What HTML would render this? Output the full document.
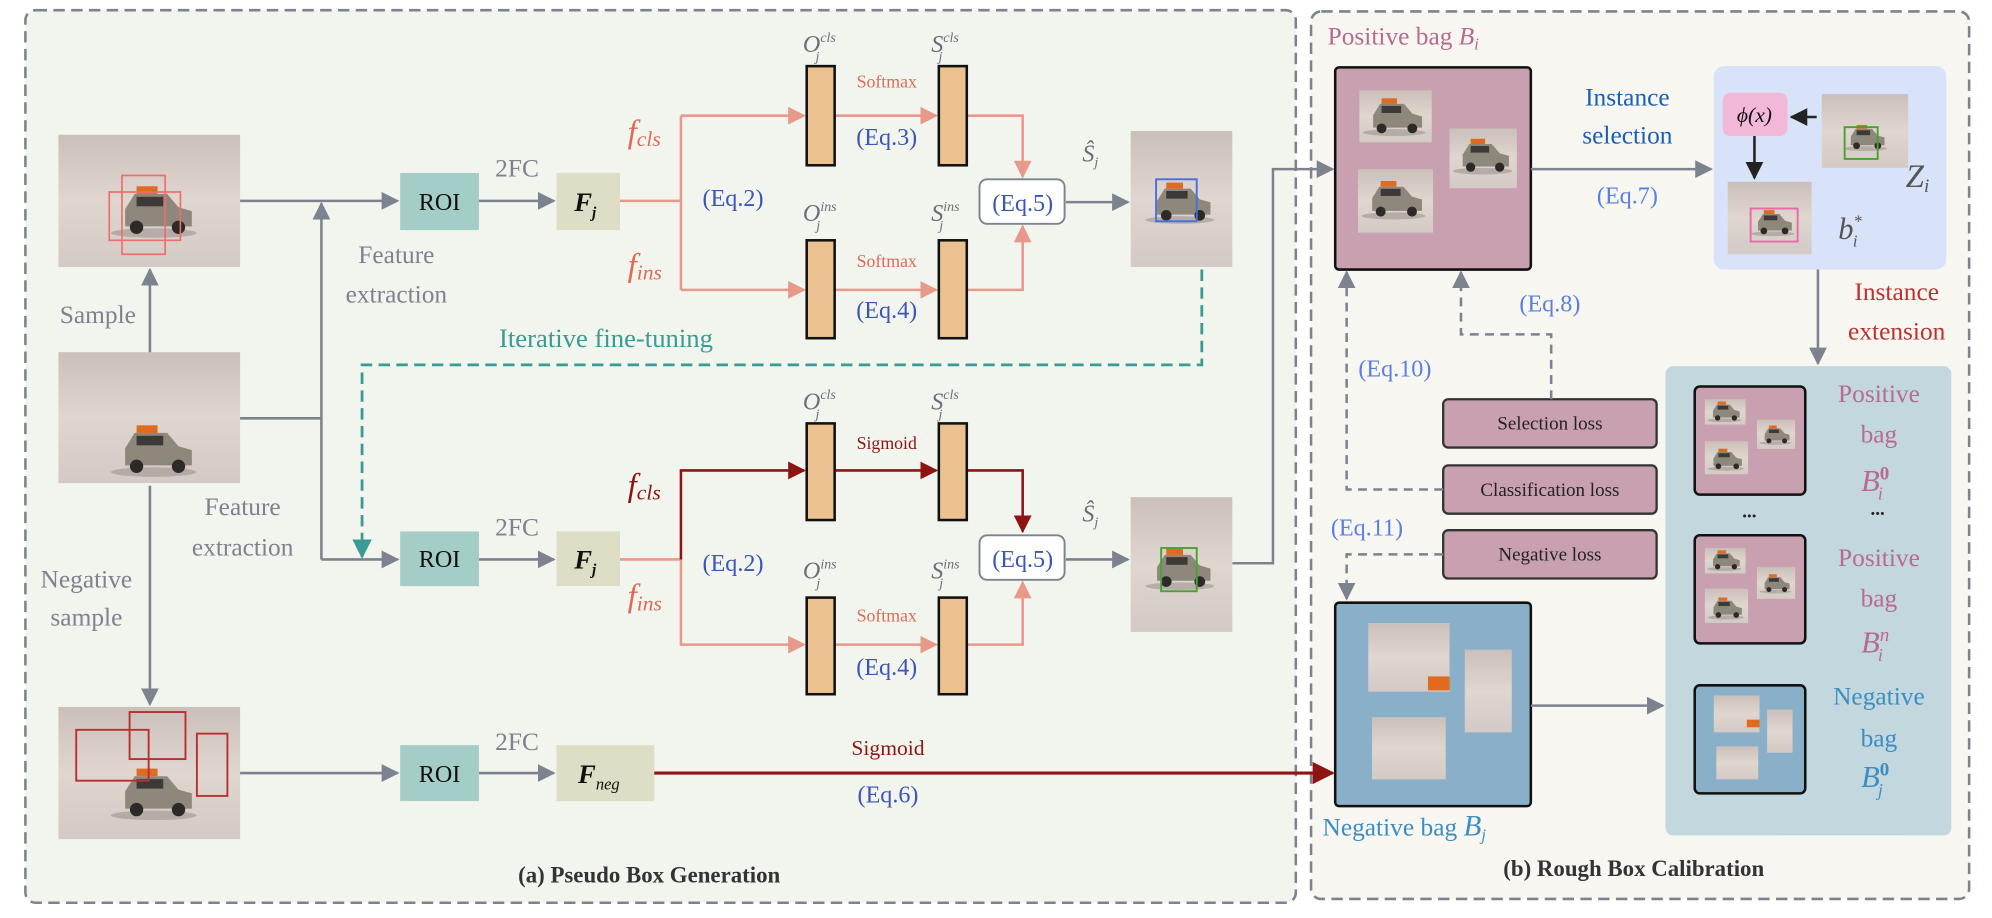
<!DOCTYPE html>
<html><head><meta charset="utf-8"><style>
html,body{margin:0;padding:0;background:#fff;}
svg{display:block;}
text{font-family:"Liberation Serif",serif;}
</style></head><body>
<svg width="1992" height="918" viewBox="0 0 1568 722" preserveAspectRatio="none" xmlns="http://www.w3.org/2000/svg">
<defs>
<linearGradient id="bg" x1="0" y1="0" x2="0" y2="1"><stop offset="0" stop-color="#cbbfb9"/><stop offset="0.5" stop-color="#e0d6d0"/><stop offset="1" stop-color="#d3cac5"/></linearGradient>
<marker id="ag" viewBox="0 0 10 10" refX="9" refY="5" markerWidth="7" markerHeight="7" orient="auto-start-reverse"><path d="M0,0L10,5L0,10z" fill="#7d828f"/></marker>
<marker id="as" viewBox="0 0 10 10" refX="9" refY="5" markerWidth="7" markerHeight="7" orient="auto"><path d="M0,0L10,5L0,10z" fill="#e8998a"/></marker>
<marker id="ar" viewBox="0 0 10 10" refX="9" refY="5" markerWidth="7" markerHeight="7" orient="auto"><path d="M0,0L10,5L0,10z" fill="#8e1414"/></marker>
<marker id="at" viewBox="0 0 10 10" refX="9" refY="5" markerWidth="7" markerHeight="7" orient="auto"><path d="M0,0L10,5L0,10z" fill="#3a9a94"/></marker>
<marker id="ak" viewBox="0 0 10 10" refX="9" refY="5" markerWidth="7" markerHeight="7" orient="auto"><path d="M0,0L10,5L0,10z" fill="#222"/></marker>
<g id="car">
<ellipse cx="48" cy="55" rx="45" ry="5" fill="#a59d98" opacity="0.7"/>
<path d="M18,30 L28,14 L62,14 L74,28 L88,32 L88,48 L18,48 Z" fill="#8e877b"/>
<rect x="30" y="17" width="28" height="10" fill="#3c3a38"/>
<rect x="30" y="6" width="22" height="8" fill="#e06a1e"/>
<circle cx="30" cy="49" r="7" fill="#2c2a28"/><circle cx="74" cy="49" r="7" fill="#2c2a28"/>
</g>
</defs>

<rect x="20" y="8" width="1000" height="702" rx="8" fill="#f1f5ee" stroke="#7d828f" stroke-width="2" stroke-dasharray="9,5"/>
<rect x="1032" y="9" width="518" height="698" rx="8" fill="#f7f6f1" stroke="#7d828f" stroke-width="2" stroke-dasharray="9,5"/>

<g>
<rect x="46" y="106" width="143" height="104" fill="url(#bg)"/>
<use href="#car" transform="translate(85,142) scale(0.75)"/>
<rect x="96" y="138" width="34" height="62" fill="none" stroke="#ef6c6c" stroke-width="1.3"/>
<rect x="86" y="151" width="56" height="38" fill="none" stroke="#ef6c6c" stroke-width="1.3"/>
</g>
<g>
<rect x="46" y="277" width="143" height="103" fill="url(#bg)"/>
<use href="#car" transform="translate(85,330) scale(0.75)"/>
</g>
<g>
<rect x="46" y="556" width="143" height="104" fill="url(#bg)"/>
<use href="#car" transform="translate(85,600) scale(0.75)"/>
<rect x="102" y="560" width="44" height="37" fill="none" stroke="#b83030" stroke-width="1.5"/>
<rect x="60" y="574" width="57" height="40" fill="none" stroke="#b83030" stroke-width="1.5"/>
<rect x="155" y="577" width="24" height="49" fill="none" stroke="#b83030" stroke-width="1.5"/>
</g>

<g stroke="#7d828f" stroke-width="2" fill="none">
<line x1="189" y1="158" x2="313" y2="158" marker-end="url(#ag)"/>
<line x1="377" y1="158" x2="436" y2="158" marker-end="url(#ag)"/>
<line x1="253" y1="440" x2="253" y2="160" marker-end="url(#ag)"/>
<line x1="189" y1="329" x2="253" y2="329"/>
<line x1="253" y1="440" x2="313" y2="440" marker-end="url(#ag)"/>
<line x1="377" y1="440" x2="436" y2="440" marker-end="url(#ag)"/>
<line x1="118" y1="277" x2="118" y2="212" marker-end="url(#ag)"/>
<line x1="118" y1="382" x2="118" y2="554" marker-end="url(#ag)"/>
<line x1="189" y1="608" x2="313" y2="608" marker-end="url(#ag)"/>
<line x1="377" y1="608" x2="436" y2="608" marker-end="url(#ag)"/>
<line x1="839" y1="159" x2="888" y2="159" marker-end="url(#ag)"/>
<line x1="839" y1="440" x2="888" y2="440" marker-end="url(#ag)"/>
<polyline points="970,443 1002,443 1002,133 1049,133" marker-end="url(#ag)"/>
</g>

<g fill="#a5cdc8"><rect x="315" y="136" width="62" height="45"/><rect x="315" y="418" width="62" height="43"/><rect x="315" y="586" width="62" height="44"/></g>
<g fill="#deddc6"><rect x="438" y="136" width="50" height="45"/><rect x="438" y="418" width="50" height="43"/><rect x="438" y="586" width="77" height="44"/></g>
<g font-size="19" fill="#111" text-anchor="middle"><text x="346" y="165">ROI</text><text x="346" y="446">ROI</text><text x="346" y="615">ROI</text></g>
<g font-size="21" font-style="italic" font-weight="bold" fill="#111"><text x="452" y="166">F<tspan font-size="12" dy="5">j</tspan></text><text x="452" y="447">F<tspan font-size="12" dy="5">j</tspan></text><text x="455" y="616">F<tspan font-size="13" dy="5" font-weight="normal">neg</tspan></text></g>
<g font-size="20" fill="#7d828f" text-anchor="middle"><text x="407" y="139">2FC</text><text x="407" y="421">2FC</text><text x="407" y="590">2FC</text>
<text x="312" y="207">Feature</text><text x="312" y="238">extraction</text>
<text x="191" y="405">Feature</text><text x="191" y="437">extraction</text>
<text x="77" y="254">Sample</text>
<text x="68" y="462">Negative</text><text x="68" y="492">sample</text></g>

<polyline points="946,212 946,287 285,287 285,438" fill="none" stroke="#3a9a94" stroke-width="2.2" stroke-dasharray="9,5" marker-end="url(#at)"/>
<text x="477" y="273" font-size="21" fill="#3a9a94" text-anchor="middle">Iterative fine-tuning</text>

<g stroke="#e8998a" stroke-width="2" fill="none">
<line x1="488" y1="158" x2="536" y2="158"/>
<polyline points="536,91 536,228"/>
<line x1="536" y1="91" x2="633" y2="91" marker-end="url(#as)"/>
<line x1="536" y1="228" x2="633" y2="228" marker-end="url(#as)"/>
<line x1="657" y1="91" x2="737" y2="91" marker-end="url(#as)"/>
<line x1="657" y1="228" x2="737" y2="228" marker-end="url(#as)"/>
<polyline points="761,91 805,91 805,139" marker-end="url(#as)"/>
<polyline points="761,228 805,228 805,178" marker-end="url(#as)"/>
<line x1="488" y1="440" x2="536" y2="440"/>
<polyline points="536,440 536,507 633,507" marker-end="url(#as)"/>
<line x1="657" y1="507" x2="737" y2="507" marker-end="url(#as)"/>
<polyline points="761,507 805,507 805,458" marker-end="url(#as)"/>
</g>
<g stroke="#8e1414" stroke-width="2" fill="none">
<polyline points="536,440 536,370 633,370" marker-end="url(#ar)"/>
<line x1="657" y1="370" x2="737" y2="370" marker-end="url(#ar)"/>
<polyline points="761,370 805,370 805,418" marker-end="url(#ar)"/>
<line x1="515" y1="608" x2="1049" y2="608" stroke-width="2.5" marker-end="url(#ar)"/>
</g>
<g fill="#ecc190" stroke="#111" stroke-width="2">
<rect x="635" y="52" width="22" height="78"/><rect x="739" y="52" width="22" height="78"/>
<rect x="635" y="189" width="22" height="77"/><rect x="739" y="189" width="22" height="77"/>
<rect x="635" y="333" width="22" height="76"/><rect x="739" y="333" width="22" height="76"/>
<rect x="635" y="470" width="22" height="76"/><rect x="739" y="470" width="22" height="76"/>
</g>
<g fill="#fff" stroke="#7d828f" stroke-width="1.5"><rect x="771" y="141" width="67" height="35" rx="6"/><rect x="771" y="421" width="67" height="35" rx="6"/></g>
<g font-size="19" fill="#3d54b8" text-anchor="middle">
<text x="805" y="166">(Eq.5)</text><text x="805" y="446">(Eq.5)</text>
<text x="577" y="162">(Eq.2)</text><text x="577" y="449">(Eq.2)</text>
<text x="698" y="114">(Eq.3)</text><text x="698" y="250">(Eq.4)</text><text x="698" y="531">(Eq.4)</text>
<text x="699" y="631">(Eq.6)</text>
</g>
<g font-size="14" text-anchor="middle"><text x="698" y="69" fill="#e06a55">Softmax</text><text x="698" y="210" fill="#e06a55">Softmax</text><text x="698" y="353" fill="#8e1414">Sigmoid</text><text x="698" y="489" fill="#e06a55">Softmax</text></g>
<text x="699" y="594" font-size="17" fill="#8e1414" text-anchor="middle">Sigmoid</text>
<g font-style="italic" font-size="26" fill="#e06a55"><text x="494" y="112">f<tspan font-size="17" dy="3">cls</tspan></text><text x="494" y="217">f<tspan font-size="17" dy="3">ins</tspan></text><text x="494" y="477">f<tspan font-size="17" dy="3">ins</tspan></text></g>
<text x="494" y="390" font-style="italic" font-size="26" fill="#8e1414">f<tspan font-size="17" dy="3">cls</tspan></text>
<g font-style="italic" font-size="19" fill="#6a6e78">
<text x="632" y="41">O<tspan font-size="11" dy="-8">cls</tspan><tspan font-size="11" dx="-16" dy="15">j</tspan></text>
<text x="733" y="41">S<tspan font-size="11" dy="-8">cls</tspan><tspan font-size="11" dx="-16" dy="15">j</tspan></text>
<text x="632" y="174">O<tspan font-size="11" dy="-8">ins</tspan><tspan font-size="11" dx="-16" dy="15">j</tspan></text>
<text x="733" y="174">S<tspan font-size="11" dy="-8">ins</tspan><tspan font-size="11" dx="-16" dy="15">j</tspan></text>
<text x="632" y="322">O<tspan font-size="11" dy="-8">cls</tspan><tspan font-size="11" dx="-16" dy="15">j</tspan></text>
<text x="733" y="322">S<tspan font-size="11" dy="-8">cls</tspan><tspan font-size="11" dx="-16" dy="15">j</tspan></text>
<text x="632" y="455">O<tspan font-size="11" dy="-8">ins</tspan><tspan font-size="11" dx="-16" dy="15">j</tspan></text>
<text x="733" y="455">S<tspan font-size="11" dy="-8">ins</tspan><tspan font-size="11" dx="-16" dy="15">j</tspan></text>
<text x="852" y="127">Ŝ<tspan font-size="11" dy="4">j</tspan></text>
<text x="852" y="410">Ŝ<tspan font-size="11" dy="4">j</tspan></text>
</g>
<rect x="890" y="103" width="80" height="107" fill="url(#bg)"/>
<use href="#car" transform="translate(900,140) scale(0.6)"/>
<rect x="910" y="141" width="32" height="33" fill="none" stroke="#4a6ee0" stroke-width="1.5"/>
<rect x="890" y="391" width="80" height="106" fill="url(#bg)"/>
<use href="#car" transform="translate(900,428) scale(0.6)"/>
<rect x="914" y="431" width="28" height="34" fill="none" stroke="#4aa030" stroke-width="1.5"/>
<text x="511" y="694" font-size="18" font-weight="bold" fill="#333" text-anchor="middle">(a) Pseudo Box Generation</text>

<text x="1045" y="35" font-size="20" fill="#b86a8f">Positive bag <tspan font-style="italic">B</tspan><tspan font-style="italic" font-size="13" dy="4">i</tspan></text>
<rect x="1051" y="53" width="154" height="159" rx="3" fill="#c9a0b0" stroke="#111" stroke-width="2"/>
<rect x="1070" y="71" width="57" height="41" fill="url(#bg)"/><use href="#car" transform="translate(1071,74) scale(0.55)"/>
<rect x="1141" y="101" width="53" height="47" fill="url(#bg)"/><use href="#car" transform="translate(1142,106) scale(0.52)"/>
<rect x="1069" y="133" width="59" height="50" fill="url(#bg)"/><use href="#car" transform="translate(1070,139) scale(0.56)"/>
<line x1="1205" y1="133" x2="1347" y2="133" stroke="#7d828f" stroke-width="2" marker-end="url(#ag)"/>
<g font-size="20" fill="#1a5fb4" text-anchor="middle"><text x="1281" y="83">Instance</text><text x="1281" y="113">selection</text></g>
<text x="1281" y="160" font-size="19" fill="#5b7fe0" text-anchor="middle">(Eq.7)</text>
<rect x="1349" y="52" width="183" height="160" rx="8" fill="#d8e2f8"/>
<rect x="1356" y="73" width="51" height="34" rx="6" fill="#f2b8d8"/>
<text x="1381" y="96" font-size="17" font-style="italic" fill="#111" text-anchor="middle">ϕ(x)</text>
<rect x="1434" y="74" width="68" height="58" fill="url(#bg)"/><use href="#car" transform="translate(1450,96) scale(0.38)"/>
<rect x="1452" y="100" width="26" height="25" fill="none" stroke="#4aa030" stroke-width="1.5"/>
<line x1="1430" y1="92" x2="1410" y2="92" stroke="#222" stroke-width="2" marker-end="url(#ak)"/>
<line x1="1381" y1="107" x2="1381" y2="140" stroke="#222" stroke-width="2" marker-end="url(#ak)"/>
<rect x="1360" y="143" width="66" height="57" fill="url(#bg)"/><use href="#car" transform="translate(1377,163) scale(0.38)"/>
<rect x="1378" y="164" width="37" height="26" fill="none" stroke="#e86aa8" stroke-width="1.5"/>
<text x="1500" y="147" font-size="26" font-style="italic" fill="#555">Z<tspan font-size="15" dy="4">i</tspan></text>
<text x="1447" y="188" font-size="24" font-style="italic" fill="#555">b<tspan font-size="13" dy="-10">*</tspan><tspan font-size="13" dx="-7" dy="16">i</tspan></text>
<line x1="1431" y1="212" x2="1431" y2="286" stroke="#7d828f" stroke-width="2" marker-end="url(#ag)"/>
<g font-size="20" fill="#c03030" text-anchor="middle"><text x="1493" y="236">Instance</text><text x="1493" y="267">extension</text></g>

<rect x="1311" y="288" width="225" height="369" rx="6" fill="#c3d8de"/>
<g stroke="#111" stroke-width="2">
<rect x="1334" y="304" width="87" height="85" rx="4" fill="#c9a0b0"/>
<rect x="1334" y="421" width="87" height="85" rx="4" fill="#c9a0b0"/>
<rect x="1334" y="539" width="87" height="85" rx="4" fill="#8aafc9"/>
</g>
<g>
<rect x="1342" y="314" width="32" height="20" fill="url(#bg)"/><use href="#car" transform="translate(1343,314) scale(0.3)"/>
<rect x="1383" y="330" width="30" height="23" fill="url(#bg)"/><use href="#car" transform="translate(1384,333) scale(0.28)"/>
<rect x="1342" y="347" width="34" height="26" fill="url(#bg)"/><use href="#car" transform="translate(1343,351) scale(0.32)"/>
<rect x="1342" y="431" width="32" height="20" fill="url(#bg)"/><use href="#car" transform="translate(1343,431) scale(0.3)"/>
<rect x="1383" y="446" width="30" height="25" fill="url(#bg)"/><use href="#car" transform="translate(1384,450) scale(0.28)"/>
<rect x="1342" y="463" width="34" height="27" fill="url(#bg)"/><use href="#car" transform="translate(1343,468) scale(0.32)"/>
<rect x="1349" y="547" width="36" height="29" fill="url(#bg)"/><rect x="1375" y="566" width="10" height="6" fill="#e06a1e"/>
<rect x="1391" y="558" width="20" height="34" fill="url(#bg)"/><rect x="1351" y="587" width="33" height="26" fill="url(#bg)"/>
</g>
<g font-size="15" font-weight="bold" fill="#222" text-anchor="middle"><text x="1377" y="407">...</text><text x="1478" y="405">...</text></g>
<g font-size="20" fill="#b86a8f" text-anchor="middle">
<text x="1479" y="316">Positive</text><text x="1479" y="348">bag</text>
<text x="1479" y="445">Positive</text><text x="1479" y="477">bag</text>
</g>
<g font-size="24" font-style="italic" fill="#b86a8f"><text x="1465" y="386">B<tspan font-size="15" font-weight="bold" font-style="normal" dy="-9">0</tspan><tspan font-size="14" dx="-9" dy="16">i</tspan></text>
<text x="1465" y="513">B<tspan font-size="15" dy="-9">n</tspan><tspan font-size="14" dx="-9" dy="16">i</tspan></text></g>
<g font-size="20" fill="#3d8ec0" text-anchor="middle"><text x="1479" y="554">Negative</text><text x="1479" y="587">bag</text></g>
<text x="1465" y="619" font-size="24" font-style="italic" fill="#3d8ec0">B<tspan font-size="15" font-weight="bold" font-style="normal" dy="-9">0</tspan><tspan font-size="14" dx="-9" dy="16">j</tspan></text>

<g fill="#c9a0b0" stroke="#333" stroke-width="1.8">
<rect x="1136" y="314" width="168" height="38" rx="4"/><rect x="1136" y="366" width="168" height="38" rx="4"/><rect x="1136" y="417" width="168" height="38" rx="4"/>
</g>
<g font-size="15" fill="#222" text-anchor="middle"><text x="1220" y="338">Selection loss</text><text x="1220" y="390">Classification loss</text><text x="1220" y="441">Negative loss</text></g>
<g stroke="#7d828f" stroke-width="2" fill="none" stroke-dasharray="7,5">
<polyline points="1221,314 1221,263 1150,263 1150,214" marker-end="url(#ag)"/>
<polyline points="1136,385 1060,385 1060,214" marker-end="url(#ag)"/>
<polyline points="1136,436 1060,436 1060,471" marker-end="url(#ag)"/>
</g>
<g font-size="19" fill="#5b7fe0" text-anchor="middle"><text x="1220" y="245">(Eq.8)</text><text x="1098" y="296">(Eq.10)</text><text x="1076" y="421">(Eq.11)</text></g>

<rect x="1051" y="474" width="154" height="160" rx="3" fill="#8aafc9" stroke="#111" stroke-width="2"/>
<rect x="1077" y="490" width="64" height="54" fill="url(#bg)"/><rect x="1124" y="532" width="17" height="11" fill="#e06a1e"/>
<rect x="1153" y="511" width="37" height="65" fill="url(#bg)"/>
<rect x="1080" y="564" width="58" height="49" fill="url(#bg)"/>
<line x1="1205" y1="555" x2="1309" y2="555" stroke="#7d828f" stroke-width="2" marker-end="url(#ag)"/>
<text x="1041" y="657" font-size="20" fill="#3d8ec0">Negative bag <tspan font-style="italic" font-size="23">B</tspan><tspan font-style="italic" font-size="13" dy="4">j</tspan></text>
<text x="1286" y="689" font-size="18" font-weight="bold" fill="#333" text-anchor="middle">(b) Rough Box Calibration</text>
</svg>
</body></html>
